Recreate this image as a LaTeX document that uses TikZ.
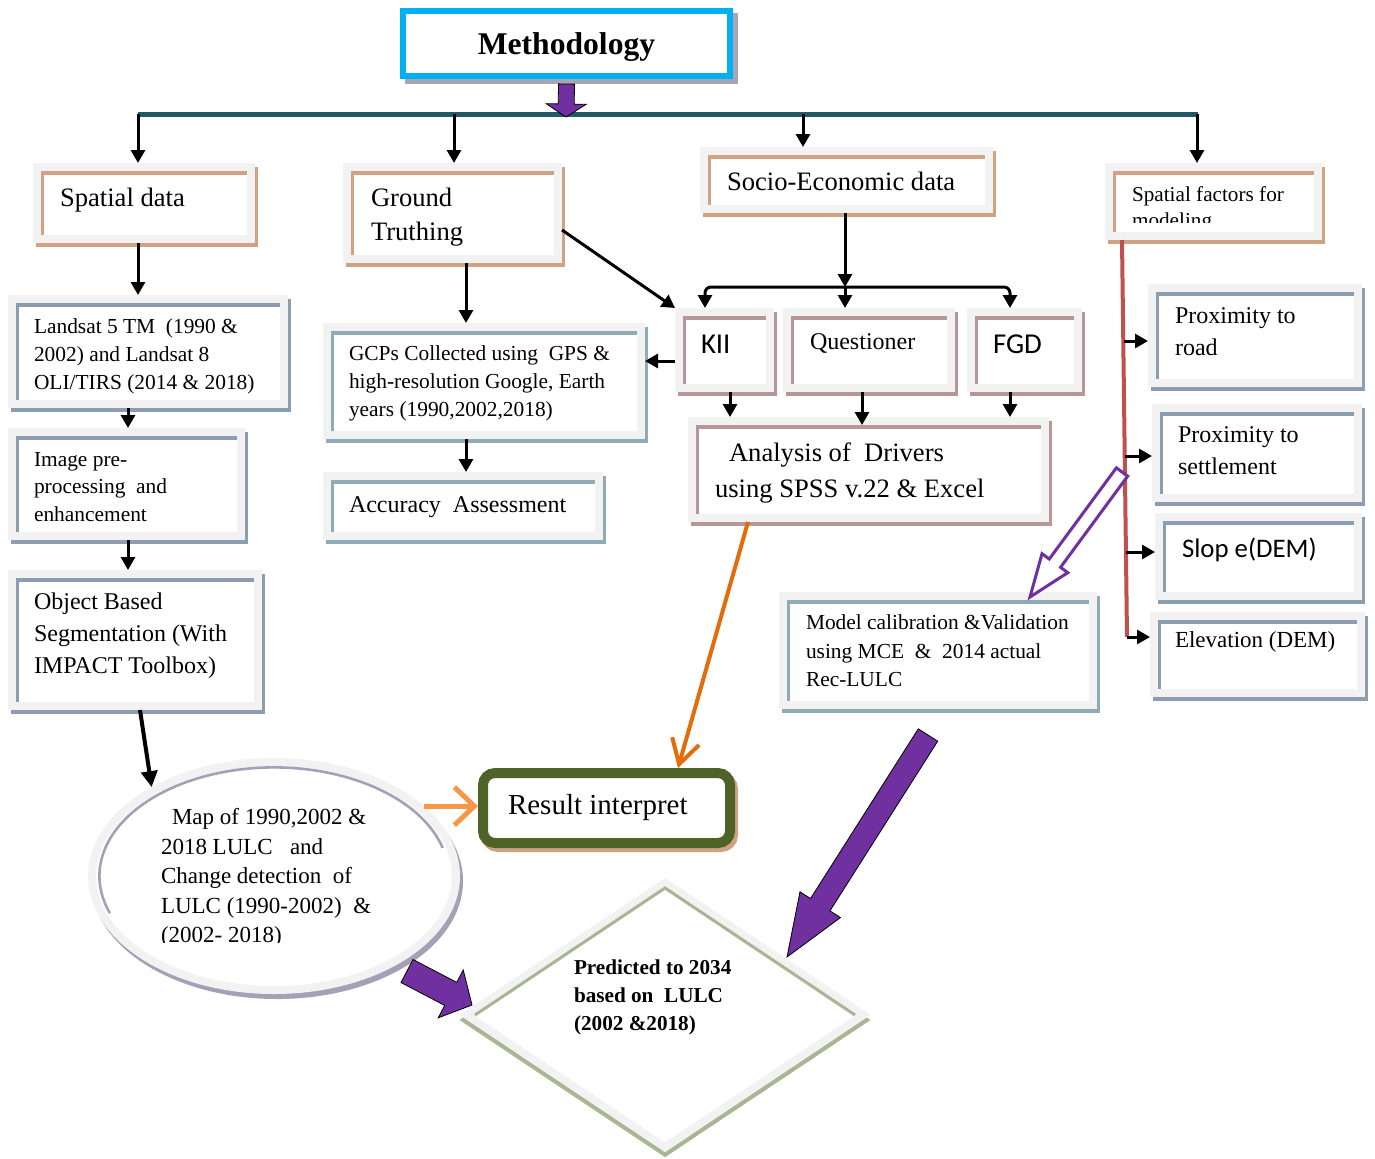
\documentclass[tikz,border=0pt]{standalone}
\usepackage{fontspec}
\setmainfont{Liberation Serif}
\newfontfamily\calib{Carlito}
\usetikzlibrary{calc,fit,shadows,shapes.geometric,arrows.meta}
\definecolor{tanc}{RGB}{206,162,131}
\definecolor{bluegr}{RGB}{141,157,177}
\definecolor{tealgr}{RGB}{143,172,182}
\definecolor{mauve}{RGB}{182,150,150}
\definecolor{framegr}{RGB}{242,242,242}
\definecolor{eshade}{RGB}{165,160,182}
\definecolor{dgreen}{RGB}{168,182,148}
\definecolor{olive}{RGB}{79,98,40}
\definecolor{purp}{RGB}{112,48,160}
\definecolor{redl}{RGB}{192,80,77}
\definecolor{orl}{RGB}{247,150,70}
\definecolor{ord}{RGB}{228,108,10}
\definecolor{cyanb}{RGB}{0,176,240}
\definecolor{barteal}{RGB}{33,89,104}
\definecolor{methsh}{RGB}{170,165,182}

\newcommand\wb[6]{\path (#2,#3) coordinate (#1-a) (#4,#5) coordinate (#1-b);
  \node[wbox=#6, fit=(#1-a)(#1-b)] (#1) {};}

% block arrow: style, from, to, half shaft, half head, head length
\newcommand\blockarrow[6]{%
  \coordinate (ba-h) at ($(#3)!#6!(#2)$);
  \draw[#1] ($(#2)!#4!90:(#3)$) -- ($(ba-h)!#4!90:(#3)$) -- ($(ba-h)!#5!90:(#3)$)
    -- (#3) -- ($(ba-h)!#5!-90:(#3)$) -- ($(ba-h)!#4!-90:(#3)$) -- ($(#2)!#4!-90:(#3)$) -- cycle;}

\begin{document}
\begin{tikzpicture}[x=0.5pt,y=-0.5pt,
  wbox/.style={rectangle, inner sep=0pt, outer sep=0pt, fill=framegr,
    drop shadow={shadow xshift=1.5pt, shadow yshift=-2pt, fill=#1, opacity=1},
    path picture={
      \fill[white] ([shift={(4pt,-4pt)}]path picture bounding box.north west) rectangle ([shift={(-4pt,4pt)}]path picture bounding box.south east);
      \fill[#1] ([shift={(4pt,-4pt)}]path picture bounding box.north west) rectangle ([shift={(-4pt,-5.75pt)}]path picture bounding box.north east);
      \fill[#1] ([shift={(4pt,-4pt)}]path picture bounding box.north west) rectangle ([shift={(5.5pt,4pt)}]path picture bounding box.south west);
    }},
  txt/.style={inner sep=0pt, outer sep=0pt, align=left, anchor=north west, yshift=-1.25pt},
  stxt/.style={inner sep=0pt, outer sep=0pt, anchor=west, yshift=-1pt},
  conn/.style={line width=1.5pt, -{Triangle[length=6.5pt,width=7pt]}},
  purparrow/.style={fill=purp, draw=black, line width=0.4pt, line join=miter},
  hollowarrow/.style={fill=white, draw=purp, line width=1.5pt, line join=miter},
]
\useasboundingbox (0,0) rectangle (1375,1158);

% ---------- title and bar
\node[draw=cyanb, line width=3pt, fill=white, minimum width=163.5pt, minimum height=32.5pt, inner sep=0pt, text depth=0pt,
  preaction={draw=methsh, fill=methsh, line width=3pt, transform canvas={shift={(2.5pt,-2.5pt)}}},
  font=\bfseries\fontsize{15.8}{18}\selectfont] (meth) at (566.5,43.5) {Methodology};
\draw[barteal, line width=2.5pt] (138,114) coordinate (bl) -- (1198,114) coordinate (br);
\coordinate (b1) at (138,114);
\coordinate (b2) at (454,114);
\coordinate (b3) at (803,114);
\coordinate (b4) at (1197,114);

% ---------- boxes
\wb{sd}{33}{163}{255}{243}{tanc}
\wb{gt}{343}{163}{562}{263}{tanc}
\wb{se}{700}{147}{993}{213}{tanc}
\wb{sf}{1105}{163}{1322}{240}{tanc}
\wb{ls}{8}{295}{288}{408}{bluegr}
\wb{ip}{8}{428}{245}{540}{bluegr}
\wb{ob}{8}{570}{262}{710}{bluegr}
\wb{gc}{323}{323}{645}{439}{tealgr}
\wb{aa}{323}{472}{603}{540}{tealgr}
\wb{kii}{675}{308}{774}{392}{mauve}
\wb{qu}{783}{308}{955}{392}{mauve}
\wb{fgd}{967}{308}{1082}{392}{mauve}
\wb{an}{688}{417}{1049}{522}{mauve}
\wb{pr}{1148}{284}{1362}{387}{bluegr}
\wb{ps}{1152}{404}{1362}{502}{bluegr}
\wb{sl}{1155}{513}{1362}{600}{bluegr}
\wb{el}{1150}{612}{1365}{697}{bluegr}
\wb{mc}{779}{592}{1097}{709}{tealgr}

% ---------- texts in boxes
\node[stxt, font=\fontsize{13.3}{17}\selectfont] (t-sd) at (60,198) {Spatial data};
\node[txt, font=\fontsize{13.3}{17}\selectfont] (t-gt) at (371,186) {Ground\\Truthing};
\node[stxt, font=\fontsize{13.3}{17}\selectfont, yshift=1pt] (t-se) at (727,181) {Socio-Economic data};
\begin{scope}
\clip (1105,163) rectangle (1322,222);
\node[txt, font=\fontsize{10.6}{13}\selectfont] (t-sf) at (1132,184.5) {Spatial factors for\\modeling};
\end{scope}
\node[txt, font=\fontsize{10.7}{14}\selectfont] (t-ls) at (34,316.5) {Landsat 5 TM\ \ (1990 \&\\2002) and Landsat 8\\OLI/TIRS (2014 \& 2018)};
\node[txt, font=\fontsize{10.7}{13.8}\selectfont] (t-ip) at (34,449.5) {Image pre-\\processing\ \ and\\enhancement};
\node[txt, font=\fontsize{12}{16}\selectfont] (t-ob) at (34,590) {Object Based\\Segmentation (With\\IMPACT Toolbox)};
\node[txt, font=\fontsize{10.7}{14}\selectfont] (t-gc) at (349,343.5) {GCPs Collected using\ \ GPS \&\\high-resolution Google, Earth\\years (1990,2002,2018)};
\node[stxt, font=\fontsize{12}{15}\selectfont] (t-aa) at (349,505) {Accuracy\ \ Assessment};
\node[stxt, font=\calib\fontsize{14.4}{17}\selectfont, yshift=1pt] (t-kii) at (701,344) {KII};
\node[stxt, font=\fontsize{12}{15}\selectfont] (t-qu) at (810,341) {Questioner};
\node[stxt, font=\calib\fontsize{14.4}{17}\selectfont, yshift=1pt] (t-fgd) at (993,344) {FGD};
\node[txt, font=\fontsize{13.3}{18}\selectfont] (t-an) at (715,440) {\hspace*{7pt}Analysis of\ \ Drivers\\using SPSS v.22 \& Excel};
\node[txt, font=\fontsize{12}{16}\selectfont] (t-pr) at (1175,305.5) {Proximity to\\road};
\node[txt, font=\fontsize{12}{16}\selectfont] (t-ps) at (1178,424.5) {Proximity to\\settlement};
\node[stxt, font=\calib\fontsize{13.4}{16}\selectfont] (t-sl) at (1182,548) {Slop e(DEM)};
\node[stxt, font=\fontsize{11.5}{14}\selectfont] (t-el) at (1175,640) {Elevation (DEM)};
\node[txt, font=\fontsize{10.7}{14.2}\selectfont] (t-mc) at (806,612.5) {Model calibration \&Validation\\using MCE\ \ \&\ \ 2014 actual\\Rec-LULC};

% ---------- ellipse
\node[ellipse, draw=framegr, line width=4pt, fill=white, minimum width=182pt, minimum height=114pt, inner sep=0pt,
  preaction={draw=eshade, line width=4pt, transform canvas={shift={(1.5pt,-2.5pt)}}}] (mp) at (274,876) {};
\draw[eshade, line width=1.3pt] ([shift={(15:87.3pt and 54.3pt)}]mp.center) arc[start angle=15, end angle=200, x radius=87.3pt, y radius=54.3pt];
\begin{scope}
\clip (100,790) rectangle (440,942);
\node[txt, font=\fontsize{11.5}{14.75}\selectfont] (t-mp) at (161,806) {\hspace*{5.5pt}Map of 1990,2002 \&\\2018 LULC\ \ \ and\\Change detection\ \ of\\LULC (1990-2002)\ \ \&\\(2002- 2018)};
\end{scope}

% ---------- result
\node[rectangle, rounded corners=6pt, draw=olive, line width=5pt, fill=white, minimum width=123.5pt, minimum height=35pt, inner sep=0pt,
  preaction={draw=tanc, line width=5pt, transform canvas={shift={(1.5pt,-2pt)}}}] (ri) at (606.5,808) {};
\node[stxt, font=\fontsize{14.5}{17}\selectfont] (t-ri) at (508,806) {Result interpret};

% ---------- diamond
\node[diamond, draw=framegr, line width=4pt, fill=white, minimum width=200pt, minimum height=134pt, inner sep=0pt,
  preaction={draw=dgreen, line width=4pt, transform canvas={shift={(0pt,-2.5pt)}}}] (pd) at (665,1015) {};
\draw[dgreen, line width=1.5pt] ($(pd.center)+(-190,0)$) -- ($(pd.center)+(0,-127)$) -- ($(pd.center)+(190,0)$);
\node[txt, font=\bfseries\fontsize{10.6}{14}\selectfont] (t-pd) at (574,957.5) {Predicted to 2034\\based on\ \ LULC\\(2002 \&2018)};

% ---------- connectors from the bar
\draw[conn] (b1) -- (b1 |- sd.north);
\draw[conn] (b2) -- (b2 |- gt.north);
\draw[conn] (b3) -- (b3 |- se.north);
\draw[conn] (b4) -- (b4 |- sf.north);
\coordinate (ma) at ($(meth.south)+(0,5)$);
\coordinate (mb) at (566,117);
\blockarrow{purparrow}{ma}{mb}{4pt}{10pt}{6.5pt}

% left column
\draw[conn] (sd.south -| b1) -- (b1 |- ls.north);
\coordinate (c1) at (128,0);
\draw[conn] (c1 |- ls.south) -- (c1 |- ip.north);
\draw[conn] (c1 |- ip.south) -- (c1 |- ob.north);
\coordinate (c3) at (140,0);
\draw[line width=2pt, -{Triangle[length=8pt,width=8pt]}] (c3 |- ob.south) -- (mp.144);

% ground truthing column
\coordinate (c2) at (466,0);
\draw[conn] (c2 |- gt.south) -- (c2 |- gc.north);
\draw[conn] (c2 |- gc.south) -- (c2 |- aa.north);
\draw[conn] ($(gt.east)+(0,17)$) -- (kii.north west);
\coordinate (k1) at ($(kii.west)+(0,11)$);
\draw[conn] (k1) -- (k1 -| gc.east);

% socio-economic
\coordinate (split) at (845,287);
\coordinate (sl0) at (705,287);
\coordinate (sr0) at (1010,287);
\draw[conn] (se.south -| split) -- (split);
\draw[conn, rounded corners=3pt] (split) -- (sl0) -- (sl0 |- kii.north);
\draw[conn, rounded corners=3pt] (split) -- (sr0) -- (sr0 |- fgd.north);
\draw[conn] (split) -- (split |- qu.north);
\coordinate (d1) at (730,0);
\coordinate (d2) at (862,0);
\coordinate (d3) at (1010,0);
\draw[conn] (d1 |- kii.south) -- (d1 |- an.north);
\draw[conn] (d2 |- qu.south) -- ($(d2 |- an.north)+(0,8)$);
\draw[conn] (d3 |- fgd.south) -- (d3 |- an.north);

% orange arrows
\coordinate (c4) at (748,0);
\coordinate (c5) at (678,0);
\draw[ord, line width=2pt, -{Straight Barb[length=12pt,width=14pt]}] (c4 |- an.south) -- (c5 |- ri.north);
\draw[orl, line width=2.5pt, -{Straight Barb[length=10pt,width=19pt]}] (mp.25) -- (mp.25 -| ri.west);

% spatial factors
\coordinate (r0) at (1122,240);
\coordinate (r1) at (1127,637);
\draw[redl, line width=2pt] (r0) -- (r1);
\coordinate (e1) at (1124,341);
\coordinate (e2) at (1125,456);
\coordinate (e3) at (1126,552);
\draw[conn] (e1) -- (e1 -| pr.west);
\draw[conn] (e2) -- (e2 -| ps.west);
\draw[conn] (e3) -- (e3 -| sl.west);
\draw[conn] (r1) -- (r1 -| el.west);

% block arrows
\coordinate (h0) at (1122,472);
\coordinate (h1) at (1030,597);
\blockarrow{hollowarrow}{h0}{h1}{3.5pt}{8pt}{21pt}
\coordinate (g0) at (928,735);
\coordinate (g1) at (787,957);
\blockarrow{purparrow}{g0}{g1}{5.75pt}{12pt}{31pt}
\coordinate (s0) at (407,971);
\coordinate (s1) at (472,1005);
\blockarrow{purparrow}{s0}{s1}{6.5pt}{13.5pt}{12pt}
\end{tikzpicture}
\end{document}
